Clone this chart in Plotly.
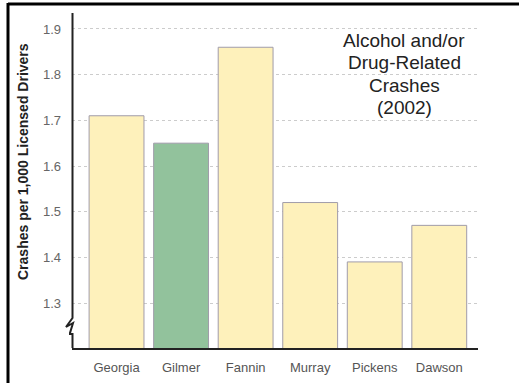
import plotly.graph_objects as go

counties = ["Georgia", "Gilmer", "Fannin", "Murray", "Pickens", "Dawson"]
rates = [1.71, 1.65, 1.86, 1.52, 1.39, 1.47]
bar_colors = ["#FEF1BB", "#92C29C", "#FEF1BB", "#FEF1BB", "#FEF1BB", "#FEF1BB"]
y_ticks = [1.3, 1.4, 1.5, 1.6, 1.7, 1.8, 1.9]
title_lines = ["Alcohol and/or", "Drug-Related", "Crashes", "(2002)"]

W, H = 519, 383
L, R, T, B = 72, 41, 13, 35
PW, PH = W - L - R, H - T - B


def px(x):
    return (x - L) / PW


def py(y):
    return (H - B - y) / PH


fig = go.Figure()
fig.add_trace(go.Bar(
    x=counties, y=rates,
    marker=dict(color=bar_colors, line=dict(color="#A09CAA", width=1)),
    width=0.85,
))

shapes = []
# y-axis with break
path = (f"M {px(72.5)},{py(T)} L {px(72.5)},{py(318)} L {px(66)},{py(327)} "
        f"L {px(73)},{py(323)} L {px(70)},{py(333)} L {px(70)},{py(334)} "
        f"L {px(72.5)},{py(334)} L {px(72.5)},{py(H - B)}")
shapes.append(dict(type="path", xref="paper", yref="paper", path=path,
                   line=dict(color="#222", width=2)))
# outer frame
shapes.append(dict(type="line", xref="paper", yref="paper",
                   x0=px(8), x1=px(W + 5), y0=py(4), y1=py(4),
                   line=dict(color="#000", width=3)))
shapes.append(dict(type="line", xref="paper", yref="paper",
                   x0=px(8), x1=px(8), y0=py(3), y1=py(H + 5),
                   line=dict(color="#000", width=3)))

annotations = [dict(
    text="<b>Crashes per 1,000 Licensed Drivers</b>", textangle=-90,
    xref="paper", yref="paper", x=px(23), y=py(162), showarrow=False,
    font=dict(size=14, color="#222", family="Liberation Sans, Arial"),
    xanchor="center", yanchor="middle")]
baselines = [47, 70, 92, 114]
for line, b in zip(title_lines, baselines):
    annotations.append(dict(
        text=line, xref="paper", yref="paper", x=px(404), y=py(b - 7),
        showarrow=False, xanchor="center", yanchor="middle",
        font=dict(size=19, color="#222", family="Liberation Sans, Arial")))

fig.update_layout(
    width=W, height=H,
    margin=dict(l=L, r=R, t=T, b=B, autoexpand=False),
    paper_bgcolor="white", plot_bgcolor="white",
    showlegend=False,
    shapes=shapes, annotations=annotations,
    font=dict(family="Liberation Sans, Arial", color="#555"),
    xaxis=dict(range=[-0.69, 5.6], showline=True, linecolor="#222", linewidth=2,
               showgrid=False, ticks="", ticklabelstandoff=6, automargin=False,
               tickfont=dict(size=13, color="#555"), fixedrange=True),
    yaxis=dict(range=[1.2015, 1.935], tickvals=y_ticks,
               ticktext=[f"{v:.1f}" for v in y_ticks],
               showline=False, zeroline=False, showgrid=True, automargin=False,
               gridcolor="#cccccc", griddash="dot", gridwidth=1,
               ticks="", ticklabelstandoff=10,
               tickfont=dict(size=13, color="#666"), fixedrange=True),
    bargap=0.15,
)

fig.write_html("out.html", config={"displayModeBar": False},
               post_script="document.body.style.margin='0';document.body.style.overflow='hidden';")
